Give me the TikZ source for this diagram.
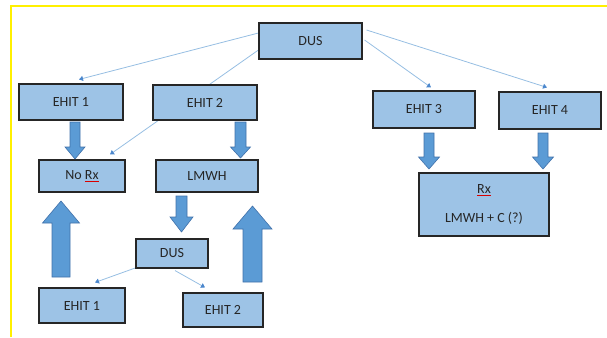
\documentclass[tikz,border=0pt]{standalone}
\usepackage{fontspec}
\setmainfont{Carlito}
\usepackage{tikz}
\usetikzlibrary{calc,arrows.meta,backgrounds}
\definecolor{boxblue}{RGB}{157,195,230}
\definecolor{fatblue}{RGB}{91,155,213}
\definecolor{fatedge}{RGB}{65,113,170}
\definecolor{linkblue}{RGB}{150,190,226}
\definecolor{tipblue}{RGB}{75,135,205}
\definecolor{frameyellow}{RGB}{255,240,0}
% red spell-check mark under a word
\newcommand{\spellmark}[1]{{\color{red!85!black}$\underline{\hbox{\textcolor{black!85}{#1}}}$}}
% thick block arrow: x, tail, head base, tip, half shaft, half head
\newcommand{\fatarrow}[6]{\draw[fatarr] (#1-#5,#2) -- (#1+#5,#2) -- (#1+#5,#3) -- (#1+#6,#3) -- (#1,#4) -- (#1-#6,#3) -- (#1-#5,#3) -- cycle;}

\begin{document}
\begin{tikzpicture}[x=1pt,y=-1pt,
  box/.style={draw=black!85,line width=1.1pt,fill=boxblue,inner sep=0pt,
    text=black!85,font=\fontsize{14}{16}\selectfont},
  link/.style={draw=linkblue,line width=.8pt,-{Triangle[length=4pt,width=5pt,color=tipblue]}},
  fatarr/.style={fill=fatblue,draw=fatedge,line width=.6pt}]
\useasboundingbox (0,0) rectangle (607,337);
\draw[frameyellow,line width=2.5pt] (11,337) -- (11,6) -- (607,6);

% boxes
\node[box,minimum width=103pt,minimum height=36pt] (dus) at (310.5,41) {DUS};
\node[box,minimum width=104pt,minimum height=36pt] (ehitA) at (71,102) {EHIT 1};
\node[box,minimum width=104pt,minimum height=35pt] (ehitB) at (205,102.5) {EHIT 2};
\node[box,minimum width=102pt,minimum height=37pt] (ehitC) at (424,109.5) {EHIT 3};
\node[box,minimum width=102pt,minimum height=37pt] (ehitD) at (550,110.5) {EHIT 4};
\node[box,minimum width=86pt,minimum height=32pt] (norx) at (82,176) {No \spellmark{Rx}};
\node[box,minimum width=102pt,minimum height=32pt] (lmwh) at (207,176) {LMWH};
\node[box,minimum width=130pt,minimum height=63pt,align=center] (rx) at (484,204.5)
  {\spellmark{Rx}\\[13pt]LMWH + C (?)};
\node[box,minimum width=72pt,minimum height=29pt] (dusB) at (172,253.5) {DUS};
\node[box,minimum width=86pt,minimum height=35pt] (ehitE) at (82,305.5) {EHIT 1};
\node[box,minimum width=80pt,minimum height=34pt] (ehitF) at (223,310) {EHIT 2};

% thin connectors
\begin{scope}[on background layer]
\draw[link] ($(dus.west)+(0,-8)$) -- ($(ehitA.north)+(8,-4)$);
\draw[link] ($(dus.west)+(0,9)$) -- ($(norx.north)+(28,-5)$);
\draw[link] ($(dus.east)+(2,-1)$) -- ($(ehitC.north)+(7,-3)$);
\draw[link] ($(dus.east)+(4,-11)$) -- ($(ehitD.north)+(-3,-4)$);
\draw[link] ($(dusB.south west)+(1,-1)$) -- ($(ehitE.north)+(13,-5)$);
\draw[link] ($(dusB.south)+(3,2)$) -- ($(ehitF.north)+(-18,-5)$);
\end{scope}

% block arrows
\fatarrow{75}{122}{147}{159}{5}{10}
\fatarrow{240.5}{122}{147}{158}{5.5}{10}
\fatarrow{181.5}{196}{217}{232}{5.5}{11.5}
\fatarrow{61}{277}{223}{201}{9}{18.5}
\fatarrow{252.5}{282}{229}{206}{9.5}{19.5}
\fatarrow{429}{133}{157}{169}{5}{10.5}
\fatarrow{543}{133}{157}{169}{5}{10.5}
\end{tikzpicture}
\end{document}
